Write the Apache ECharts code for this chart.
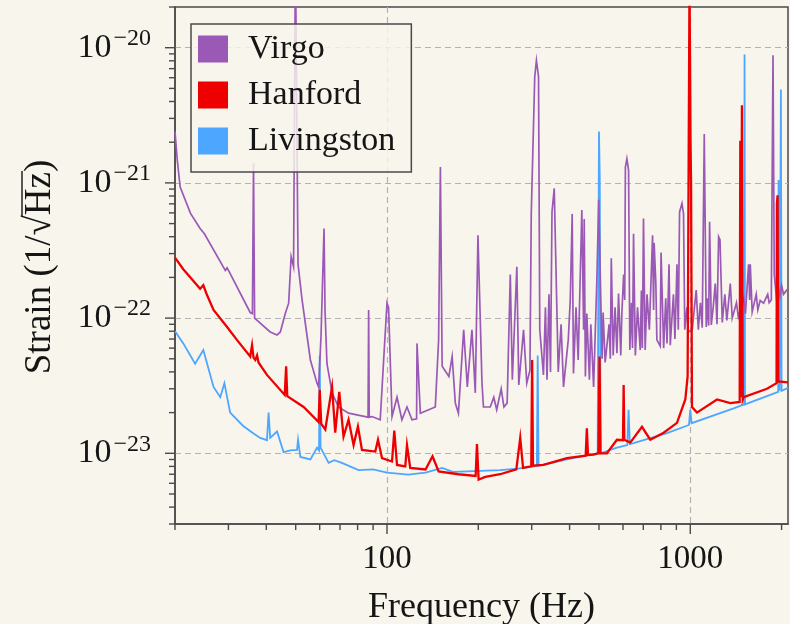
<!DOCTYPE html>
<html>
<head>
<meta charset="utf-8">
<script src="https://cdn.jsdelivr.net/npm/echarts@6/dist/echarts.min.js"></script>
<style>
html,body{margin:0;padding:0;background:#f8f5ed;}
#chart{width:790px;height:624px;}
</style>
</head>
<body>
<div id="chart"></div>
<script>
// ---------------- data ----------------
const freqVirgo = [20,20.35,20.8,22.5,24.2,24.5,25,29.3,29.7,30.2,35.4,36.0,36.3,36.6,36.8,41.2,43.4,44.5,46.2,47.4,48.3,49.2,49.9,50.9,52.5,55.9,58.8,59.5,60.6,62,62.5,63.4,65.9,69.2,74.7,84.8,86.6,87,87.4,89.2,95,97.5,100,101.2,103.9,107.9,112,116.4,120.9,125.2,125.6,128.8,144.3,148,150,152,160,164,168,172,179,184,190.6,195.5,199.5,
  205.7,208,219,225,230,238,243,249,255,259,268,272,282,289,296,299,307,311,316,319,328,333,337,342,346,350,356,367,375,382,396,402,408,412,420,427,439,445,447,451,456,465,470,480,492,499,507,512,516,524,540,545,549,557,565,573,580,590,595,603,608,611,618,626,632,640,645,650,659,670,684,690,695,701,710,720,733,751,757,760,770,776,796,801,817,830,838,851,859,880,890,904,913,922,939,950,959,975,985,1015,1046,1063,1080,1095,1112,1129,1140,1150,1158,1173,1190,1209,1225,1240,1253,1275,1300,1320,1355,1375,1420,1440,1462,1500,1520,1557,1570,1577,1600,1650,1670,1700,1745,1800,1820,1850,1874,1892,1921,1950,1975,2000,2030,2080,2100];
const strainVirgo = [2.4e-21,1.47e-21,9.3e-22,5.95e-22,4.6e-22,4.5e-22,4.2e-22,2.25e-22,2.35e-22,2.2e-22,1.1e-22,1.08e-22,1.4e-21,1.0e-22,1.0e-22,7.9e-23,7.5e-23,7.9e-23,1.08e-22,1.29e-22,2.85e-22,2.4e-22,5e-20,2.5e-22,1.36e-22,4.9e-23,3.3e-23,3.1e-23,7.3e-23,4.6e-22,1.1e-22,4.6e-23,2.8e-23,2.2e-23,1.98e-23,1.87e-23,1.85e-23,1.15e-22,1.85e-23,1.87e-23,1.77e-23,4.9e-23,1.29e-22,1.2e-22,1.87e-23,2.6e-23,1.77e-23,2.2e-23,1.77e-23,1.8e-23,6.5e-23,1.98e-23,2.2e-23,6.9e-23,1.31e-21,4.4e-23,3.7e-23,5.2e-23,2.35e-23,1.98e-23,8.2e-23,3.1e-23,8.2e-23,2.8e-23,4.1e-22,
  3.3e-23,2.2e-23,2.2e-23,2.6e-23,2.1e-23,3.0e-23,2.2e-23,2.35e-23,2.1e-22,3.5e-23,2.4e-22,3.2e-23,8.2e-23,3.3e-23,4.1e-23,5.9e-22,6.06e-21,8.05e-21,6.1e-21,8.2e-23,3.8e-23,1.2e-22,3.5e-23,1.5e-22,4.0e-23,6.1e-22,9.1e-22,4.0e-23,9.0e-23,3.1e-23,6.9e-23,1.36e-22,5.9e-22,3.9e-23,1.2e-22,4.9e-23,6.3e-22,8.2e-23,5.4e-22,3.7e-23,1.08e-22,3.5e-23,9.0e-23,3.1e-23,1.9e-22,7.5e-22,1.36e-22,5.0e-23,1.1e-22,4.7e-23,9.0e-23,5.0e-23,2.77e-22,5.3e-23,1.2e-22,5.5e-23,1.52e-22,5.3e-23,1.1e-22,2.1e-22,1.36e-22,1.31e-21,1.51e-21,1.24e-21,5.8e-23,1.3e-22,6.0e-23,4.2e-22,5.3e-23,1.2e-22,5.8e-23,1.6e-22,6.0e-23,5.45e-22,5.8e-23,1.5e-22,8.2e-23,4.1e-22,1.15e-22,3.6e-22,1.8e-22,6.9e-23,6.2e-23,3.06e-22,6.0e-23,1.4e-22,6.5e-23,2.5e-22,6.3e-23,1.5e-22,7.0e-23,2.5e-22,8.2e-23,6.1e-22,7.05e-22,5.9e-22,8.2e-23,1.2e-22,7.9e-23,8.2e-23,1.61e-22,8.2e-23,1.3e-22,8.5e-23,2.3e-21,8.6e-23,1.4e-22,8.8e-23,5.15e-22,8.9e-23,1.2e-22,1.8e-22,9.0e-23,4.0e-22,3.8e-22,9.3e-23,1.5e-22,9.6e-23,1.8e-22,1.0e-22,1.3e-22,1.02e-22,1.05e-22,1.4e-22,1.08e-22,2.5e-22,1.36e-22,2.5e-22,1.11e-22,1.5e-22,1.15e-22,1.35e-22,1.29e-22,1.5e-22,1.3e-22,1.36e-22,8.8e-21,2.1e-22,1.46e-22,1.7e-22,1.45e-22,1.75e-22,1.5e-22,1.61e-22,1.65e-22];

const freqHanford = [20,21.3,24.2,24.8,25.5,26.8,29.7,32,35.4,35.9,36.3,36.8,37.3,37.7,40.2,46,46.5,46.9,53.1,59.5,60,60.7,62.6,65.9,67.5,69.6,71.9,74.7,77.6,80.2,82.7,91.5,93.4,96.3,103.9,105.7,107.9,114.9,116.4,119.3,134,141.3,148,172,196,198,200.5,211,236,267,275,281,299,301,303,328,392,452,456,460,480,498,502,506,531,573,600,603,606,634,693,738,817,904,963,980,994,998,1002,1006,1013,1052,1225,1355,1455,1462,1470,1480,1490,1500,1790,1925,1930,1940,1950,2100];
const strainHanford = [2.8e-22,2.3e-22,1.65e-22,1.75e-22,1.48e-22,1.15e-22,8.6e-23,6.9e-23,5.2e-23,6.3e-23,5.1e-23,4.9e-23,5.3e-23,4.7e-23,3.8e-23,2.7e-23,4.4e-23,2.65e-23,2.2e-23,1.7e-23,2.95e-23,1.65e-23,1.5e-23,3.1e-23,1.42e-23,2.85e-23,1.33e-23,1.77e-23,1.15e-23,1.58e-23,1.06e-23,1.03e-23,1.26e-23,9.2e-24,8.7e-24,1.47e-23,8.2e-24,8.0e-24,1.15e-23,7.8e-24,7.6e-24,9.5e-24,7.35e-24,7.0e-24,6.8e-24,1.17e-23,6.4e-24,6.7e-24,7.0e-24,7.6e-24,1.3e-23,7.8e-24,8.0e-24,4.9e-23,8.1e-24,8.2e-24,9.2e-24,9.6e-24,1.53e-23,9.7e-24,9.8e-24,1.0e-23,5.2e-23,1.0e-23,1.0e-23,1.26e-23,1.25e-23,3.2e-23,1.26e-23,1.2e-23,1.57e-23,1.26e-23,1.42e-23,1.68e-23,2.5e-23,3.7e-23,3e-20,8.8e-21,2e-21,1e-21,2.2e-23,2.0e-23,2.5e-23,2.35e-23,2.4e-23,2.05e-21,2.6e-23,3.75e-21,2.5e-23,2.6e-23,3.0e-23,3.3e-23,7e-22,8.1e-22,3.4e-23,3.35e-23];

const freqLivingston = [20,21.3,23.3,24.8,26.8,28.2,29.1,30.4,33.5,36.3,38.2,40.2,40.7,41.2,43.4,45.6,48,50.5,50.9,51.8,55.9,58.8,59.7,60,60.4,61.8,64.2,67,71,80.6,90,100,117.5,134,152,165,184,236,270,304,312,314,316,350,392,450,495,500,503,506,573,620,626,632,650,838,990,1000,1010,1390,1505,1510,1515,1790,1950,1955,1970,1990,2000,2100];
const strainLivingston = [8.0e-23,6.5e-23,4.6e-23,5.8e-23,3.1e-23,2.6e-23,3.3e-23,2.0e-23,1.6e-23,1.4e-23,1.3e-23,1.25e-23,2.0e-23,1.3e-23,1.45e-23,1.02e-23,1.05e-23,1.06e-23,1.26e-23,9.4e-24,9.0e-24,1.1e-23,1.05e-23,5.3e-23,1.1e-23,1.0e-23,8.5e-24,8.9e-24,8.5e-24,7.5e-24,7.6e-24,7.2e-24,6.95e-24,7.2e-24,7.8e-24,7.3e-24,7.35e-24,7.5e-24,7.7e-24,8.0e-24,8.1e-24,5.3e-23,8.1e-24,8.5e-24,9.0e-24,9.6e-24,1.0e-23,2.4e-21,1.1e-21,1.0e-23,1.1e-23,1.15e-23,2.1e-23,1.17e-23,1.19e-23,1.41e-23,1.62e-23,2.1e-23,1.67e-23,2.15e-23,2.3e-23,8.9e-21,2.3e-23,2.65e-23,2.85e-23,1.05e-21,2.9e-23,4.9e-21,2.9e-23,3.05e-23];

const seriesNames = ['Virgo', 'Hanford', 'Livingston'];
const xRange = [20, 2100];
const yRange = [3e-24, 2e-20];
const xMajorTicks = [100, 1000];
const xMinorTicks = [20,30,40,50,60,70,80,90,200,300,400,500,600,700,800,900,2000];
const yMajorTicks = [1e-23, 1e-22, 1e-21, 1e-20];
const yMinorTicks = [3e-24,4e-24,5e-24,6e-24,7e-24,8e-24,9e-24,
  2e-23,3e-23,4e-23,5e-23,6e-23,7e-23,8e-23,9e-23,
  2e-22,3e-22,4e-22,5e-22,6e-22,7e-22,8e-22,9e-22,
  2e-21,3e-21,4e-21,5e-21,6e-21,7e-21,8e-21,9e-21,2e-20];
const xTitle = 'Frequency (Hz)';
const yTitlePre = 'Strain (1/√';
const yTitleRad = 'Hz';
const yTitlePost = ')';

// ---------------- styling ----------------
const BG = '#f8f5ed';
const AXIS = '#4a4a4a';
const TEXT = '#151515';
const FONT = '"Liberation Serif", "DejaVu Serif", serif';
const colors = {Virgo: '#9b59b6', Hanford: '#ee0000', Livingston: '#4da6ff'};

const pairs = (fs, vs) => fs.map((f, i) => [f, vs[i]]);

function tickSeries(vals, dir, len) {
  return {
    type: 'custom', silent: true, clip: false, z: 6,
    data: vals.map(v => dir === 'x' ? [v, yRange[0]] : [xRange[0], v]),
    renderItem: (params, api) => {
      const p = api.coord([api.value(0), api.value(1)]);
      const shape = dir === 'x'
        ? {x1: p[0], y1: p[1], x2: p[0], y2: p[1] + len}
        : {x1: p[0], y1: p[1], x2: p[0] - len, y2: p[1]};
      return {type: 'line', shape: shape, style: {stroke: AXIS, lineWidth: 1.4}};
    }
  };
}

function lineSeries(name, fs, vs, width) {
  return {
    name: name, type: 'line', data: pairs(fs, vs),
    showSymbol: false, symbol: 'none', clip: true, animation: false,
    color: colors[name],
    itemStyle: {color: colors[name]},
    lineStyle: {color: colors[name], width: width, join: 'miter'},
    z: 3
  };
}

// measure the y title to put the radical's bar over "Hz"
const mctx = document.createElement('canvas').getContext('2d');
const yTitleFontSize = 37;
mctx.font = yTitleFontSize + 'px "Liberation Serif"';
const yTitle = yTitlePre + yTitleRad + yTitlePost;
const wAll = mctx.measureText(yTitle).width;
const wPre = mctx.measureText(yTitlePre).width;
const wRad = mctx.measureText(yTitleRad).width;

const chart = echarts.init(document.getElementById('chart'), null, {renderer: 'canvas'});
chart.setOption({
  backgroundColor: BG,
  animation: false,
  grid: {left: 175, right: 2, top: 7, bottom: 100, containLabel: false, outerBoundsMode: 'none',
         show: true, borderColor: AXIS, borderWidth: 1.5, backgroundColor: 'transparent'},
  legend: {
    data: seriesNames, orient: 'vertical', left: 191, top: 24,
    padding: [8, 16, 14, 7], itemGap: 12, itemWidth: 30, itemHeight: 27,
    icon: 'rect', selectedMode: false,
    backgroundColor: 'rgba(248,245,237,0.82)', borderColor: AXIS, borderWidth: 1.5, borderRadius: 0,
    textStyle: {fontFamily: FONT, fontSize: 34, color: TEXT, padding: [0, 0, 0, 15], lineHeight: 34}
  },
  xAxis: {
    type: 'log', logBase: 10, min: xRange[0], max: xRange[1],
    axisLine: {show: true, lineStyle: {color: AXIS, width: 1.5}},
    axisTick: {show: false},
    axisLabel: {
      showMinLabel: false, showMaxLabel: false, margin: 19,
      fontFamily: FONT, fontSize: 33, lineHeight: 33, color: TEXT,
      formatter: v => String(Math.round(v))
    },
    splitLine: {show: true, showMinLine: false, showMaxLine: false, lineStyle: {type: [6, 4], color: '#b3b3b3', width: 1.2}},
    name: xTitle, nameLocation: 'middle', nameGap: 66,
    nameTextStyle: {fontFamily: FONT, fontSize: 36, lineHeight: 36, color: TEXT}
  },
  yAxis: {
    type: 'log', logBase: 10, min: yRange[0], max: yRange[1],
    axisLine: {show: true, lineStyle: {color: AXIS, width: 1.5}},
    axisTick: {show: false},
    axisLabel: {
      showMinLabel: false, showMaxLabel: false, margin: 24, align: 'right',
      formatter: v => '{b|10}{s|−' + Math.abs(Math.round(Math.log10(v))) + '}',
      rich: {
        b: {fontFamily: FONT, fontSize: 34, lineHeight: 42, color: TEXT, verticalAlign: 'middle'},
        s: {fontFamily: FONT, fontSize: 24, lineHeight: 24, color: TEXT, verticalAlign: 'top', padding: [0, 0, 0, 2]}
      }
    },
    splitLine: {show: true, showMinLine: false, showMaxLine: false, lineStyle: {type: [6, 4], color: '#b3b3b3', width: 1.2}}
  },
  graphic: [{
    type: 'group', x: 40, y: 267, rotation: Math.PI / 2, silent: true,
    children: [
      {type: 'text', x: 0, y: 0, style: {text: yTitle, font: yTitleFontSize + 'px "Liberation Serif"', fill: TEXT, align: 'center', verticalAlign: 'middle'}},
      {type: 'line', shape: {x1: -wAll / 2 + wPre - 1, y1: -18, x2: -wAll / 2 + wPre + wRad + 1, y2: -18}, style: {stroke: TEXT, lineWidth: 1.4}}
    ]
  }],
  series: [
    lineSeries('Livingston', freqLivingston, strainLivingston, 1.8),
    lineSeries('Virgo', freqVirgo, strainVirgo, 1.7),
    lineSeries('Hanford', freqHanford, strainHanford, 2.3),
    tickSeries(xMinorTicks, 'x', 6),
    tickSeries(xMajorTicks, 'x', 10),
    tickSeries(yMinorTicks, 'y', 6),
    tickSeries(yMajorTicks, 'y', 10)
  ]
});
</script>
</body>
</html>
